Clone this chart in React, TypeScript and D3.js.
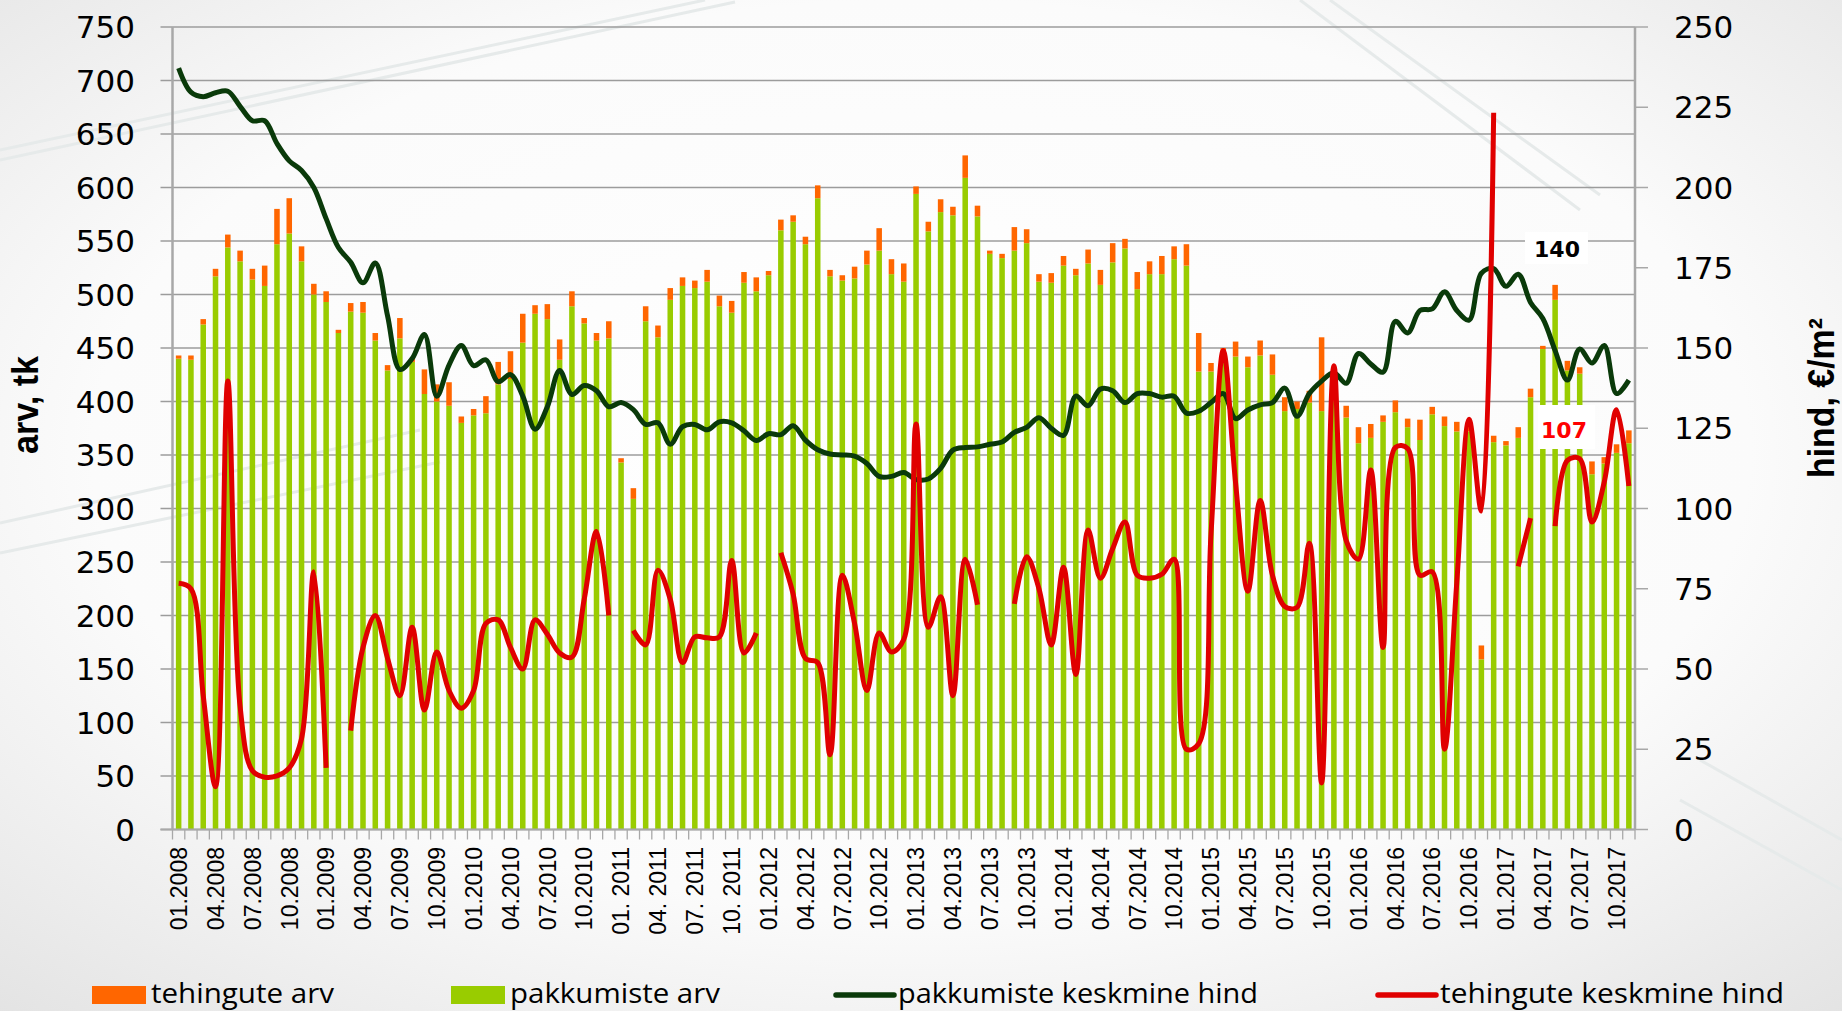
import React from 'react';
import * as d3 from 'd3';

// months 01.2008 .. 11.2017
const months: string[] = [];
for (let y = 2008; y <= 2017; y++) {
  for (let m = 1; m <= 12; m++) {
    if (y === 2017 && m > 11) break;
    months.push(`${m < 10 ? '0' + m : m}.${y}`);
  }
}

// every 3rd month gets a label
const tickLabels = [
  '01.2008', '04.2008', '07.2008', '10.2008', '01.2009', '04.2009', '07.2009', '10.2009',
  '01.2010', '04.2010', '07.2010', '10.2010', '01. 2011', '04. 2011', '07. 2011', '10. 2011',
  '01.2012', '04.2012', '07.2012', '10.2012', '01.2013', '04.2013', '07.2013', '10.2013',
  '01.2014', '04.2014', '07.2014', '10.2014', '01.2015', '04.2015', '07.2015', '10.2015',
  '01.2016', '04.2016', '07.2016', '10.2016', '01.2017', '04.2017', '07.2017', '10.2017',
];

const leftTicks = [0, 50, 100, 150, 200, 250, 300, 350, 400, 450, 500, 550, 600, 650, 700, 750];
const rightTicks = [0, 25, 50, 75, 100, 125, 150, 175, 200, 225, 250];

const pakkumisteArv = [
  440, 439, 472, 517, 544, 531, 514, 508, 547, 557, 531, 500,
  493, 464, 484, 483, 457, 429, 459, 437, 407, 400, 396, 380,
  387, 389, 416, 421, 455, 482, 477, 439, 489, 473, 457, 459,
  343, 309, 475, 460, 495, 508, 506, 512, 489, 483, 511, 503,
  518, 560, 568, 547, 590, 517, 513, 515, 528, 541, 519, 512,
  594, 559, 577, 574, 609, 573, 538, 534, 541, 548, 512, 511,
  527, 518, 529, 509, 530, 543, 505, 519, 519, 533, 527, 428,
  428, 440, 442, 432, 443, 425, 391, 393, 399, 391, 400, 385,
  361, 366, 381, 390, 376, 364, 388, 377, 372, 372, 159, 362,
  359, 366, 404, 449, 495, 429, 426, 332, 342, 352, 361,
];

const tehinguteArv = [
  3, 4, 5, 7, 12, 10, 10, 19, 33, 33, 14, 10,
  10, 3, 8, 10, 7, 5, 19, 3, 23, 16, 22, 6,
  6, 16, 21, 26, 27, 8, 14, 19, 14, 5, 7, 16,
  4, 10, 14, 11, 11, 8, 7, 11, 10, 11, 10, 13,
  4, 10, 6, 7, 12, 6, 5, 11, 13, 21, 14, 17,
  7, 9, 12, 8, 21, 10, 3, 4, 22, 13, 7, 9,
  9, 6, 13, 14, 18, 9, 16, 12, 17, 12, 20, 36,
  8, 10, 14, 10, 14, 19, 13, 7, 11, 69, 5, 11,
  15, 13, 6, 11, 8, 19, 7, 9, 9, 6, 13, 6,
  4, 10, 8, 3, 14, 9, 6, 12, 6, 8, 12,
];

const pakkumisteHind = [
  237.2, 229.7, 228.3, 229.5, 230, 225.3, 220.8, 220.8, 213.7, 208.3, 205.3, 200,
  190.3, 181.3, 176.7, 170.3, 176.5, 160, 143.3, 146.7, 154.2, 135, 144.7, 150.8,
  144.5, 146.3, 139.5, 141.7, 135, 124.7, 131.7, 143, 135.5, 138.3, 136.7, 131.7,
  133, 130.8, 126.2, 126.7, 120, 125.5, 126.2, 124.5, 127, 126.7, 124.2, 121.2,
  123.3, 123, 125.8, 121.3, 118.3, 117, 116.7, 116.3, 114, 110, 110, 111.2,
  109, 109.2, 112.5, 118.2, 119, 119.2, 120, 120.7, 123.7, 125.3, 128.3, 125,
  122.8, 135, 132, 137.2, 136.7, 133, 135.8, 135.8, 134.7, 135, 129.7, 130.3,
  133, 135.8, 128, 130.7, 132.3, 133, 137.5, 128.7, 135.8, 139.7, 142.3, 139,
  148.3, 145, 142.5, 158.3, 154.7, 161.7, 162.2, 167.5, 161.7, 158.7, 173.3, 174.7,
  169.2, 173, 164.2, 159.2, 149.2, 140, 149.7, 145.3, 150.8, 135.8, 140,
];

const tehinguteHind: (number | null)[] = [
  76.7, 75, 41.7, 13.3, 139.7, 38.3, 18.3, 16.3, 16.7, 19.2, 28.3, 80.3,
  19.2, null, 30.8, 56.7, 66.7, 53.3, 41.7, 63, 37.2, 55.3, 43.3, 37.8,
  43.3, 64.2, 65.3, 56.7, 50, 65.3, 60.8, 55, 53.7, 71.7, 92.8, 66.7,
  null, 62, 57.5, 80.8, 71.7, 52, 60, 59.7, 60, 83.8, 55, 61.2,
  null, 86.2, 73.3, 53.3, 52, 23.3, 79.2, 64.2, 43.3, 61.2, 55.3, 59.2,
  126.3, 63, 72.5, 41.7, 84.2, 70, null, null, 70.3, 85, 75, 57.5,
  81.7, 48.3, 93.3, 78.3, 87.5, 95.8, 79.2, 78.3, 79.5, 84.2, 25, 26.7,
  92, 149.2, 108, 74.2, 102.5, 79.2, 69.5, 69.2, 89.2, 14.5, 144.5, 90,
  84.2, 112, 56.7, 119, 118.7, 79.2, 80.3, 25, 77, 127.8, 99.2, 223.3,
  null, 82, 97, null, 94.5, 115, 115.5, 95.8, 108.3, 130.8, 107,
];

const legendItems = [
  { label: 'tehingute arv', kind: 'rect', color: '#FF6600' },
  { label: 'pakkumiste arv', kind: 'rect', color: '#99CC00' },
  { label: 'pakkumiste keskmine hind', kind: 'line', color: '#0A3A0A' },
  { label: 'tehingute keskmine hind', kind: 'line', color: '#E00000' },
];

const W = 1842;
const H = 1011;
const left = 172.5;
const right = 1635;
const top = 27;
const bottom = 829.5;

const tickFont = '"DejaVu Sans", Verdana, sans-serif';
const gridColor = '#9C9C9C';

// faint watermark strokes of the slide background
const deco = [
  [0, 150, 705, 0], [0, 160, 735, 2],
  [0, 523, 420, 430], [0, 553, 440, 462],
  [1300, 0, 1580, 210], [1330, 0, 1600, 195],
  [1700, 760, 1842, 840], [1680, 800, 1842, 890],
];

export default function App() {
  const idx = d3.range(months.length);
  const x = d3.scaleBand<number>()
    .domain(idx)
    .range([left, right])
    .paddingInner(0.55)
    .paddingOuter(0.275);
  const yL = d3.scaleLinear().domain([0, 750]).range([bottom, top]);
  const yR = d3.scaleLinear().domain([0, 250]).range([bottom, top]);
  const cx = (i: number) => (x(i) ?? 0) + x.bandwidth() / 2;

  const line = d3.line<number | null>()
    .defined(d => d != null)
    .x((_, i) => cx(i))
    .y(d => yR(d as number))
    .curve(d3.curveCatmullRom.alpha(0.5));

  const bounds = d3.range(months.length + 1).map(k => left + k * x.step());

  const lastG = pakkumisteHind[pakkumisteHind.length - 1];
  const lastR = tehinguteHind[tehinguteHind.length - 1] as number;

  const legendX = [92, 451, 836, 1378];
  const legendLen = [183, 210, 360, 344];

  return (
    <svg width={W} height={H} style={{ position: 'absolute', left: 0, top: 0 }}>
      <defs>
        <radialGradient id="bg" cx="50%" cy="45%" r="75%">
          <stop offset="0" stopColor="#ffffff" />
          <stop offset="0.6" stopColor="#fbfbfb" />
          <stop offset="1" stopColor="#e3e3e3" />
        </radialGradient>
      </defs>
      <rect width={W} height={H} fill="url(#bg)" />
      {deco.map((d, i) => (
        <line key={i} x1={d[0]} y1={d[1]} x2={d[2]} y2={d[3]} stroke="#e6eaea" strokeWidth={3} />
      ))}

      {/* grid */}
      {leftTicks.map(t => (
        <line key={t} x1={left - 12} x2={right} y1={yL(t)} y2={yL(t)} stroke={gridColor} strokeWidth={1.3} />
      ))}

      {/* bars */}
      {idx.map(i => (
        <g key={i}>
          <rect x={x(i)} width={x.bandwidth()} y={yL(pakkumisteArv[i])}
            height={yL(0) - yL(pakkumisteArv[i])} fill="#99CC00" />
          <rect x={x(i)} width={x.bandwidth()} y={yL(pakkumisteArv[i] + tehinguteArv[i])}
            height={yL(pakkumisteArv[i]) - yL(pakkumisteArv[i] + tehinguteArv[i])} fill="#FF6600" />
        </g>
      ))}

      {/* axes */}
      <line x1={left} x2={left} y1={top} y2={bottom} stroke="#A8A8A8" strokeWidth={2.5} />
      <line x1={right} x2={right} y1={top} y2={bottom} stroke="#A8A8A8" strokeWidth={2.5} />
      <line x1={left - 12} x2={right} y1={bottom} y2={bottom} stroke="#A8A8A8" strokeWidth={2} />
      {rightTicks.map(t => (
        <line key={t} x1={right} x2={right + 13} y1={yR(t)} y2={yR(t)} stroke="#A8A8A8" strokeWidth={1.5} />
      ))}
      {bounds.map((b, k) => (
        <line key={k} x1={b} x2={b} y1={bottom} y2={bottom + 10} stroke="#A8A8A8" strokeWidth={1.3} />
      ))}

      {leftTicks.map(t => (
        <text key={t} x={135} y={yL(t)} dy="0.36em" textAnchor="end"
          fontFamily={tickFont} fontSize={31} fill="#000">{t}</text>
      ))}
      {rightTicks.map(t => (
        <text key={t} x={1674} y={yR(t)} dy="0.36em" textAnchor="start"
          fontFamily={tickFont} fontSize={31} fill="#000">{t}</text>
      ))}
      {tickLabels.map((lab, k) => (
        <text key={lab} transform={`translate(${cx(k * 3)},847) rotate(-90)`} dy="0.36em"
          textAnchor="end" fontFamily='"Liberation Sans", Arial, sans-serif' fontSize={23} fill="#000">{lab}</text>
      ))}

      {/* axis titles */}
      <text transform="translate(38,405) rotate(-90)" textAnchor="middle" fontFamily='"Liberation Sans", Arial, sans-serif'
        fontWeight="bold" fontSize={36} textLength={98} lengthAdjust="spacingAndGlyphs">arv, tk</text>
      <text transform="translate(1834,398) rotate(-90)" textAnchor="middle" fontFamily='"Liberation Sans", Arial, sans-serif'
        fontWeight="bold" fontSize={36} textLength={160} lengthAdjust="spacingAndGlyphs">hind, €/m²</text>

      {/* data labels */}
      <rect x={1525} y={232} width={63} height={32} fill="#fff" />
      <text x={1557} y={257} textAnchor="middle" fontFamily={tickFont} fontWeight="bold" fontSize={22} fill="#000">{lastG}</text>
      <rect x={1538} y={405} width={57} height={44} fill="#fff" />
      <text x={1564} y={438} textAnchor="middle" fontFamily={tickFont} fontWeight="bold" fontSize={22} fill="#FF0000">{lastR}</text>

      {/* lines */}
      <path d={line(pakkumisteHind) ?? ''} fill="none" stroke="#0A3A0A" strokeWidth={5} strokeLinejoin="round" />
      <path d={line(tehinguteHind) ?? ''} fill="none" stroke="#E00000" strokeWidth={5} strokeLinejoin="round" />

      {/* legend */}
      {legendItems.map((it, k) => (
        <g key={it.label} transform={`translate(${legendX[k]},0)`}>
          {it.kind === 'rect'
            ? <rect x={0} y={986} width={54} height={18} fill={it.color} />
            : <line x1={0} x2={58} y1={995} y2={995} stroke={it.color} strokeWidth={5.5} strokeLinecap="round" />}
          <text x={it.kind === 'rect' ? 59 : 62} y={1003} fontFamily='"Open Sans", sans-serif' fontSize={27}
            textLength={legendLen[k]} lengthAdjust="spacingAndGlyphs" fill="#000">{it.label}</text>
        </g>
      ))}
    </svg>
  );
}
